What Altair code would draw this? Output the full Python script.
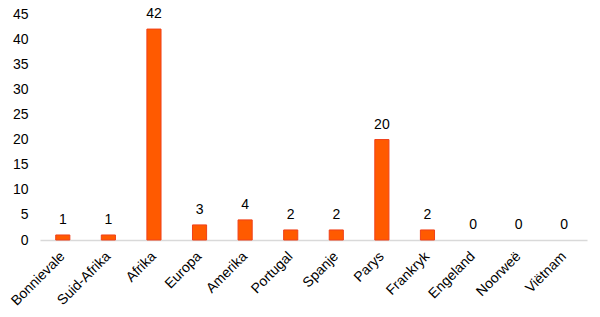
import altair as alt
import pandas as pd

places = ["Bonnievale", "Suid-Afrika", "Afrika", "Europa", "Amerika", "Portugal",
          "Spanje", "Parys", "Frankryk", "Engeland", "Noorweë", "Viëtnam"]
counts = [1, 1, 42, 3, 4, 2, 2, 20, 2, 0, 0, 0]

df = pd.DataFrame({"place": places, "count": counts})

x = alt.X("place:N", sort=places, title=None,
          scale=alt.Scale(paddingInner=0.69, paddingOuter=0.345),
          axis=alt.Axis(labelAngle=-45, labelAlign="right", labelBaseline="middle",
                        labelFont="Liberation Sans", labelFontSize=14, labelColor="#000",
                        domainColor="#D9D9D9", domainWidth=1.5, ticks=False, labelPadding=14))
y = alt.Y("count:Q", title=None,
          scale=alt.Scale(domain=[0, 45]),
          axis=alt.Axis(values=list(range(0, 50, 5)), grid=False, domain=False, ticks=False,
                        labelFont="Liberation Sans", labelFontSize=14, labelColor="#000",
                        labelPadding=12))

base = alt.Chart(df).encode(x=x, y=y)
bars = base.mark_bar(color="#FF5A00", stroke="#F0401A").encode(
    strokeWidth=alt.condition("datum.count == 0", alt.value(0), alt.value(1)))
text = base.mark_text(dy=-8, baseline="bottom", font="Liberation Sans", fontSize=14, color="#000").encode(
    text="count:Q")

chart = (bars + text).properties(
    width=547, height=226,
    autosize=alt.AutoSizeParams(type="none"),
    padding={"left": 40, "top": 14, "right": 13, "bottom": 77},
).configure_view(stroke=None)

chart.save("out.html", embed_options={"renderer": "svg", "actions": False})
